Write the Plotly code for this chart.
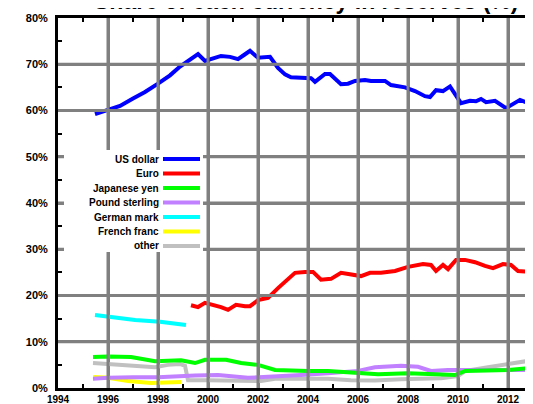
import plotly.graph_objects as go

# ---- data (share of reserves, %) ----
usd_years = [1995.48, 1996.0, 1996.48, 1997.0, 1997.48, 1998.0, 1998.48, 1998.88, 1999.2, 1999.6,
             1999.88, 2000.2, 2000.52, 2000.88, 2001.2, 2001.44, 2001.68, 2002.0, 2002.24, 2002.48,
             2002.8, 2003.08, 2003.32, 2003.88, 2004.12, 2004.28, 2004.68, 2004.88, 2005.32, 2005.6,
             2005.88, 2006.28, 2006.52, 2007.08, 2007.32, 2007.88, 2008.28, 2008.68, 2008.88, 2009.12,
             2009.4, 2009.68, 2009.88, 2010.12, 2010.48, 2010.72, 2010.92, 2011.12, 2011.48, 2011.92,
             2012.48, 2012.8, 2013.32]
usd_vals = [59.2, 60.1, 61.0, 62.6, 64.0, 65.8, 67.6, 69.5, 70.6, 72.2,
            70.7, 71.2, 71.8, 71.6, 71.1, 72.0, 72.9, 71.4, 71.4, 71.6,
            69.2, 67.8, 67.2, 67.2, 67.0, 66.2, 67.9, 67.9, 65.7, 65.8,
            66.4, 66.6, 66.4, 66.4, 65.5, 65.0, 64.2, 63.1, 62.9, 64.4,
            64.2, 65.2, 63.4, 61.6, 62.1, 62.0, 62.5, 61.8, 62.1, 60.5,
            62.3, 61.6, 61.4]

eur_years = [1999.32, 1999.6, 1999.88, 2000.28, 2000.52, 2000.8, 2001.12, 2001.48, 2001.68, 2002.0,
             2002.4, 2002.8, 2003.48, 2003.88, 2004.2, 2004.52, 2004.92, 2005.32, 2005.72, 2006.12,
             2006.48, 2006.92, 2007.48, 2008.0, 2008.6, 2008.92, 2009.12, 2009.4, 2009.6, 2009.92,
             2010.28, 2010.68, 2011.08, 2011.4, 2011.8, 2012.12, 2012.4, 2012.92, 2013.32]
eur_vals = [17.9, 17.5, 18.4, 17.9, 17.5, 16.9, 18.0, 17.7, 17.7, 19.0,
            19.5, 21.6, 24.9, 25.1, 25.1, 23.4, 23.6, 24.9, 24.6, 24.2,
            24.9, 24.9, 25.3, 26.2, 26.8, 26.6, 25.3, 26.6, 25.7, 27.7,
            27.7, 27.2, 26.4, 25.9, 26.8, 26.6, 25.3, 25.1, 24.2]

jpy_years = [1995.4, 1996.0, 1996.92, 1997.88, 1998.92, 1999.48, 1999.88, 2000.72, 2001.32, 2002.0,
             2002.68, 2003.48, 2004.0, 2004.8, 2006.0, 2006.8, 2008.0, 2009.08, 2009.88, 2010.28,
             2011.08, 2012.0, 2012.88, 2013.32]
jpy_vals = [6.7, 6.8, 6.7, 5.8, 6.0, 5.4, 6.1, 6.1, 5.4, 5.0,
            3.9, 3.7, 3.7, 3.7, 3.2, 3.0, 3.2, 3.0, 2.8, 3.7,
            3.7, 3.9, 4.3, 4.3]

gbp_years = [1995.4, 1996.0, 1997.0, 1998.0, 1999.48, 2000.4, 2001.6, 2002.68, 2003.72, 2004.8,
             2006.0, 2006.68, 2007.72, 2008.4, 2008.92, 2009.6, 2010.4, 2011.48, 2012.8, 2013.32]
gbp_vals = [2.0, 2.2, 2.3, 2.3, 2.7, 2.8, 2.2, 2.4, 2.8, 3.2,
            3.7, 4.5, 4.8, 4.6, 3.7, 3.9, 3.9, 3.9, 3.9, 3.9]

dem_years = [1995.48, 1996.0, 1997.08, 1998.08, 1999.12]
dem_vals = [15.8, 15.4, 14.7, 14.3, 13.6]

frf_years = [1995.4, 1996.0, 1996.8, 1997.72, 1998.92]
frf_vals = [2.4, 2.2, 1.5, 1.1, 1.3]

oth_years = [1995.4, 1996.0, 1996.8, 1997.88, 1998.4, 1998.88, 1999.08, 1999.2, 2000.0, 2001.32,
             2002.12, 2002.68, 2003.72, 2004.8, 2005.72, 2006.68, 2007.72, 2008.8, 2009.32, 2010.0,
             2010.3, 2011.2, 2012.2, 2013.32]
oth_vals = [5.4, 5.2, 5.0, 4.5, 5.0, 5.2, 4.8, 1.7, 1.7, 1.5,
            1.5, 2.0, 2.0, 2.0, 1.7, 1.6, 1.9, 2.0, 2.1, 2.6,
            3.7, 4.5, 5.4, 6.3]

series_names = ["US dollar", "Euro", "Japanese yen", "Pound sterling", "German mark", "French franc", "other"]
series_colors = ["#0000ff", "#ff0000", "#00ff00", "#c080ff", "#00ffff", "#ffff00", "#c0c0c0"]
series_x = [usd_years, eur_years, jpy_years, gbp_years, dem_years, frf_years, oth_years]
series_y = [usd_vals, eur_vals, jpy_vals, gbp_vals, dem_vals, frf_vals, oth_vals]

x_ticks = list(range(1994, 2013, 2))
x_minor = list(range(1995, 2014, 2))
y_ticks = list(range(0, 81, 10))
y_minor = list(range(5, 80, 10))
title_text = "Share of each currency in reserves (%)"

FONT = "Liberation Sans"
GRID = "#808080"

fig = go.Figure()
for name, color, xs, ys in reversed(list(zip(series_names, series_colors, series_x, series_y))):
    fig.add_trace(go.Scatter(x=xs, y=ys, mode="lines", name=name,
                             line=dict(color=color, width=4), showlegend=False))

shapes = []
# grid lines drawn in front of the data, through the axis scales
for xv in x_ticks[1:]:
    shapes.append(dict(type="line", xref="x", yref="paper", x0=xv, x1=xv, y0=0, y1=1,
                       layer="above", line=dict(color=GRID, width=3)))
for yv in y_ticks[1:-1]:
    shapes.append(dict(type="line", xref="paper", yref="y", x0=0, x1=1, y0=yv, y1=yv,
                       layer="above", line=dict(color=GRID, width=3)))

# legend box (white) and entries
shapes.append(dict(type="rect", xref="paper", yref="paper",
                   x0=(56 - 50) / 483, x1=(195 - 50) / 483,
                   y0=(380 - 244) / 370, y1=(380 - 142) / 370,
                   layer="above", line=dict(width=0), fillcolor="white"))
annotations = []
for i, (name, color) in enumerate(zip(series_names, series_colors)):
    py = 151 + 14.5 * i
    yp = (380 - py) / 370
    annotations.append(dict(xref="paper", yref="paper", x=(153 - 50) / 483, y=yp,
                            xanchor="right", yanchor="middle", showarrow=False,
                            text=name, font=dict(family=FONT, size=10, color="black", weight="bold")))
    shapes.append(dict(type="line", xref="paper", yref="paper",
                       x0=(155 - 50) / 483, x1=(192 - 50) / 483, y0=yp, y1=yp,
                       layer="above", line=dict(color=color, width=4)))

annotations.append(dict(xref="paper", yref="paper", x=(298 - 50) / 483, y=1.0, yshift=2,
                        xanchor="center", yanchor="bottom", showarrow=False,
                        text=title_text, font=dict(family=FONT, size=23, color="black", weight="bold")))

xtickfont = dict(family=FONT, size=10, color="black", weight="bold")
ytickfont = dict(family=FONT, size=11, color="black", weight="bold")

fig.update_layout(
    template="none",
    width=533, height=404,
    margin=dict(l=50, r=0, t=10, b=24),
    paper_bgcolor="white", plot_bgcolor="white",
    font=dict(family=FONT, size=10, color="black", weight="bold"),
    shapes=shapes, annotations=annotations,
    xaxis=dict(range=[1994, 2013.32], tickmode="array", tickvals=x_ticks,
               ticktext=[str(v) for v in x_ticks],
               showgrid=True, gridcolor=GRID, gridwidth=3,
               showline=True, linecolor="black", linewidth=3, mirror="ticks",
               ticks="inside", ticklen=4, tickwidth=2, tickcolor="black",
               minor=dict(tickvals=x_minor, ticks="inside", ticklen=4,
                          tickwidth=2, tickcolor="black", showgrid=False),
               zeroline=False, tickfont=xtickfont, automargin=False),
    yaxis=dict(range=[0, 80], tickmode="array", tickvals=y_ticks,
               ticktext=[f"{v}%" for v in y_ticks],
               showgrid=True, gridcolor=GRID, gridwidth=3,
               showline=True, linecolor="black", linewidth=3,
               ticks="inside", ticklen=4, tickwidth=2, tickcolor="black",
               minor=dict(tickvals=y_minor, ticks="inside", ticklen=4,
                          tickwidth=2, tickcolor="black", showgrid=False),
               ticklabelstandoff=5,
               zeroline=False, tickfont=ytickfont, automargin=False),
)

fig.write_html("out.html")
